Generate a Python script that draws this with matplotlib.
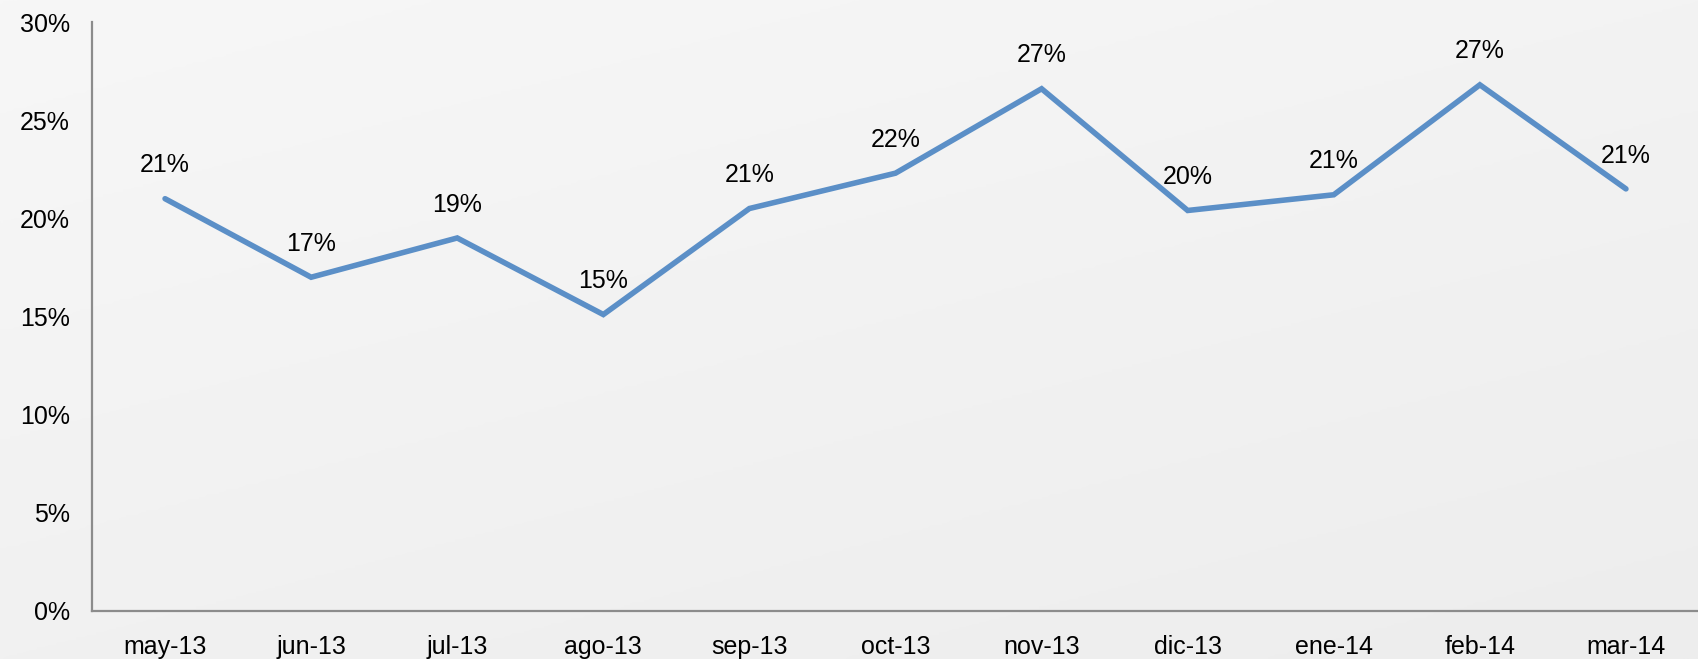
import numpy as np
import matplotlib.pyplot as plt
from matplotlib.colors import LinearSegmentedColormap
from matplotlib.ticker import FuncFormatter

plt.rcParams['font.family'] = ['Liberation Sans', 'DejaVu Sans']

months = ["may-13", "jun-13", "jul-13", "ago-13", "sep-13", "oct-13",
          "nov-13", "dic-13", "ene-14", "feb-14", "mar-14"]
values = [21.0, 17.0, 19.0, 15.1, 20.5, 22.3, 26.6, 20.4, 21.2, 26.8, 21.5]
labels = ["21%", "17%", "19%", "15%", "21%", "22%", "27%", "20%", "21%", "27%", "21%"]


def main():
    fig = plt.figure(figsize=(16.99, 6.59), dpi=100)

    # soft grey gradient background
    bg = fig.add_axes([0, 0, 1, 1], zorder=-10)
    grad = (np.linspace(0, 1, 256).reshape(-1, 1) * 0.6
            + np.linspace(0, 1, 256).reshape(1, -1) * 0.4)
    bg.imshow(grad, cmap=LinearSegmentedColormap.from_list("bg", ["#f7f7f7", "#ededed"]),
              aspect="auto", extent=[0, 1, 0, 1])
    bg.axis("off")

    ax = fig.add_axes([92 / 1699, 1 - 611 / 659, (1699 - 92) / 1699, (611 - 22) / 659])
    ax.patch.set_alpha(0)

    x = np.arange(len(months))
    ax.plot(x, values, color="#5b8fc7", lw=4, solid_joinstyle="miter",
            solid_capstyle="round")
    for xi, v, lab in zip(x, values, labels):
        ax.annotate(lab, (xi, v), xytext=(0, 24), textcoords="offset points",
                    ha="center", va="center", fontsize=18, color="black")

    ax.set_xlim(-0.5, len(months) - 0.5)
    ax.set_ylim(0, 30)
    ax.set_yticks(np.arange(0, 31, 5))
    ax.yaxis.set_major_formatter(FuncFormatter(lambda v, _: f"{v:.0f}%"))
    ax.set_xticks(x)
    ax.set_xticklabels(months)
    ax.tick_params(axis="both", length=0, labelsize=18, colors="black")
    ax.tick_params(axis="y", pad=16)
    ax.tick_params(axis="x", pad=17)

    for s in ("top", "right"):
        ax.spines[s].set_visible(False)
    for s in ("left", "bottom"):
        ax.spines[s].set_color("#8c8c8c")
        ax.spines[s].set_linewidth(1.6)

    fig.savefig("out.png", dpi=100)


if __name__ == "__main__":
    main()
